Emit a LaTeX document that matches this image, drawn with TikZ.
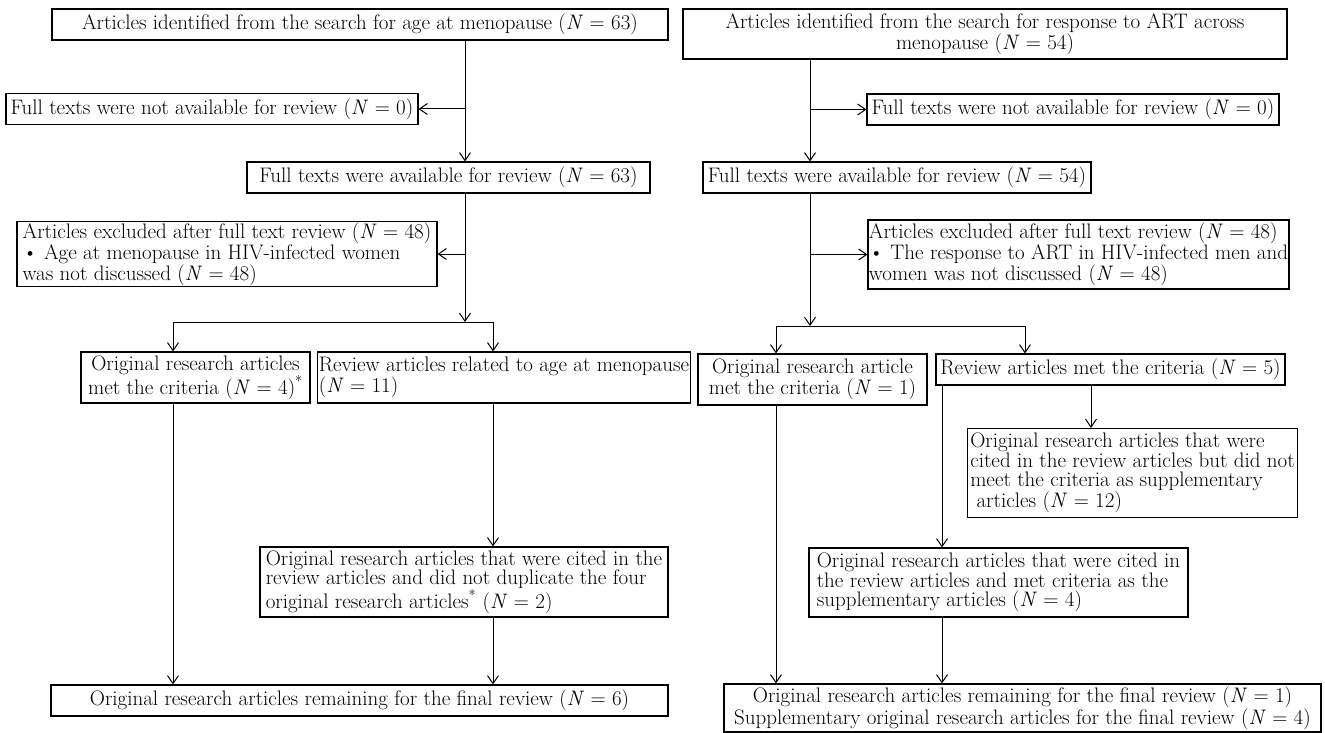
\documentclass[tikz,border=0pt]{standalone}
\usepackage{fontspec}
\usetikzlibrary{arrows.meta}
\newcommand{\fsz}{\fontsize{21}{21}\selectfont}
\newcommand{\fst}{\fontsize{21}{19.5}\selectfont}
\newcommand{\NN}[1]{(\textit{N}~=~#1)}
\begin{document}
\begin{tikzpicture}[x=1pt,y=-1pt,
  box/.style={draw, line width=1.1pt, inner sep=1pt, font=\fsz, anchor=center},
  boxc/.style={box, align=center},
  boxl/.style={box, align=left},
  arr/.style={line width=1pt, -{Straight Barb[length=8pt,width=11pt]}},
  ln/.style={line width=1pt}]
\useasboundingbox (0,0) rectangle (1325,733);
% ---------------- left column ----------------
\node[boxc, minimum width=616pt, minimum height=31pt] (a1l) at (360,24.5)
  {Articles identified from the search for age at menopause \NN{63}};
\node[boxc, minimum width=412pt, minimum height=31pt] (nal) at (212,109)
  {Full texts were not available for review \NN{0}};
\node[boxc, minimum width=403pt, minimum height=31pt] (a3l) at (448.5,177.5)
  {Full texts were available for review \NN{63}};
\node[boxl, minimum width=420pt, minimum height=64pt] (exl) at (227,254)
  {Articles excluded after full text review \NN{48}\\
   \textbullet{} Age at menopause in HIV-infected women\\
   was not discussed \NN{48}};
\node[boxc, minimum width=229pt, minimum height=51pt] (orl) at (195.5,377.5)
  {Original research articles\\ met the criteria \NN{4}\textsuperscript{*}};
\node[boxl, minimum width=372pt, minimum height=51pt] (rvl) at (504,377.5)
  {Review articles related to age at menopause\\ \NN{11}};
\node[boxl, minimum width=408pt, minimum height=70pt, font=\fst] (dupl) at (464,582)
  {Original research articles that were cited in the\\
   review articles and did not duplicate the four\\
   original research articles\textsuperscript{*} \NN{2}};
\node[boxc, minimum width=617pt, minimum height=31pt] (botl) at (359.5,700.5)
  {Original research articles remaining for the final review \NN{6}};
% ---------------- right column ----------------
\node[boxc, minimum width=604pt, minimum height=50pt] (a1r) at (985,34)
  {Articles identified from the search for response to ART across\\ menopause \NN{54}};
\node[boxc, minimum width=412pt, minimum height=31pt] (nar) at (1073,109.5)
  {Full texts were not available for review \NN{0}};
\node[boxc, minimum width=388pt, minimum height=31pt] (a3r) at (897,177.5)
  {Full texts were available for review \NN{54}};
\node[boxl, minimum width=421pt, minimum height=69pt] (exr) at (1078.5,254.5)
  {Articles excluded after full text review \NN{48}\\
   \textbullet{} The response to ART in HIV-infected men and\\
   women was not discussed \NN{48}};
\node[boxc, minimum width=229pt, minimum height=51pt] (orr) at (812.5,379.5)
  {Original research article\\ met the criteria \NN{1}};
\node[boxc, minimum width=349pt, minimum height=31pt] (rvr) at (1110.5,369.5)
  {Review articles met the criteria \NN{5}};
\node[boxl, minimum width=330pt, minimum height=89pt, font=\fst] (cited) at (1132.5,473)
  {Original research articles that were\\
   cited in the review articles but did not\\
   meet the criteria as supplementary\\
   \ articles \NN{12}};
\node[boxl, minimum width=379pt, minimum height=69pt, font=\fst] (cit2) at (998.5,582.5)
  {Original research articles that were cited in\\
   the review articles and met criteria as the\\
   supplementary articles \NN{4}};
\node[boxc, minimum width=597pt, minimum height=48pt, font=\fst] (botr) at (1022.5,708)
  {Original research articles remaining for the final review \NN{1}\\
   Supplementary original research articles for the final review \NN{4}};
% ---------------- connector positions ----------------
\coordinate (ml) at (465,0);
\coordinate (jl) at (465,322);
\coordinate (xo) at (173,0);
\coordinate (xr) at (493,0);
\coordinate (mr) at (810,0);
\coordinate (jr) at (810,326);
\coordinate (xo2) at (776,0);
\coordinate (xr2) at (1025,0);
\coordinate (xc) at (1091,0);
\coordinate (xs) at (942,0);
% ---------------- left connectors ----------------
\draw[arr] (a1l.south -| ml) -- (a3l.north -| ml);
\draw[arr] (ml |- nal.east) -- (nal.east);
\draw[arr] (a3l.south -| ml) -- (jl);
\draw[arr] (ml |- exl.east) -- (exl.east);
\draw[ln] (jl -| xo) -- (jl -| xr);
\draw[arr] (jl -| xo) -- (orl.north -| xo);
\draw[arr] (jl -| xr) -- (rvl.north -| xr);
\draw[arr] (orl.south -| xo) -- (botl.north -| xo);
\draw[arr] (rvl.south -| xr) -- (dupl.north -| xr);
\draw[arr] (dupl.south -| xr) -- (botl.north -| xr);
% ---------------- right connectors ----------------
\draw[arr] (a1r.south -| mr) -- (a3r.north -| mr);
\draw[arr] (mr |- nar.west) -- (nar.west);
\draw[arr] (a3r.south -| mr) -- (jr);
\draw[arr] (mr |- exr.west) -- (exr.west);
\draw[ln] (jr -| xo2) -- (jr -| xr2);
\draw[arr] (jr -| xo2) -- (orr.north -| xo2);
\draw[arr] (jr -| xr2) -- (rvr.north -| xr2);
\draw[arr] (orr.south -| xo2) -- (botr.north -| xo2);
\draw[arr] (rvr.south -| xc) -- (cited.north -| xc);
\draw[arr] (rvr.south -| xs) -- (cit2.north -| xs);
\draw[arr] (cit2.south -| xs) -- (botr.north -| xs);
\end{tikzpicture}
\end{document}
